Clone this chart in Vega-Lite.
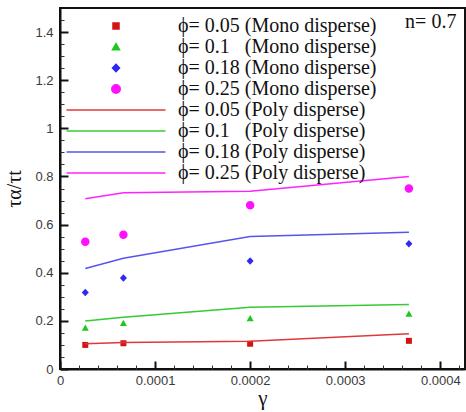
{
  "$schema": "https://vega.github.io/schema/vega-lite/v6.json",
  "width": 405,
  "height": 361,
  "autosize": "none",
  "padding": {"left": 60, "top": 8, "right": 1, "bottom": 43},
  "background": "white",
  "datasets": {
    "mono": [
      {"g": 0.0000266, "v": 0.10, "s": "ϕ= 0.05 (Mono disperse)"},
      {"g": 0.0000667, "v": 0.107, "s": "ϕ= 0.05 (Mono disperse)"},
      {"g": 0.0002, "v": 0.105, "s": "ϕ= 0.05 (Mono disperse)"},
      {"g": 0.000367, "v": 0.117, "s": "ϕ= 0.05 (Mono disperse)"},
      {"g": 0.0000266, "v": 0.17, "s": "ϕ= 0.1\u2007 (Mono disperse)"},
      {"g": 0.0000667, "v": 0.19, "s": "ϕ= 0.1\u2007 (Mono disperse)"},
      {"g": 0.0002, "v": 0.21, "s": "ϕ= 0.1\u2007 (Mono disperse)"},
      {"g": 0.000367, "v": 0.229, "s": "ϕ= 0.1\u2007 (Mono disperse)"},
      {"g": 0.0000266, "v": 0.318, "s": "ϕ= 0.18 (Mono disperse)"},
      {"g": 0.0000667, "v": 0.378, "s": "ϕ= 0.18 (Mono disperse)"},
      {"g": 0.0002, "v": 0.449, "s": "ϕ= 0.18 (Mono disperse)"},
      {"g": 0.000367, "v": 0.52, "s": "ϕ= 0.18 (Mono disperse)"},
      {"g": 0.0000266, "v": 0.529, "s": "ϕ= 0.25 (Mono disperse)"},
      {"g": 0.0000667, "v": 0.558, "s": "ϕ= 0.25 (Mono disperse)"},
      {"g": 0.0002, "v": 0.68, "s": "ϕ= 0.25 (Mono disperse)"},
      {"g": 0.000367, "v": 0.75, "s": "ϕ= 0.25 (Mono disperse)"}
    ],
    "poly": [
      {"g": 0.0000266, "v": 0.105, "s": "ϕ= 0.05 (Poly disperse)"},
      {"g": 0.0000667, "v": 0.11, "s": "ϕ= 0.05 (Poly disperse)"},
      {"g": 0.0002, "v": 0.115, "s": "ϕ= 0.05 (Poly disperse)"},
      {"g": 0.000367, "v": 0.146, "s": "ϕ= 0.05 (Poly disperse)"},
      {"g": 0.0000266, "v": 0.199, "s": "ϕ= 0.1\u2007 (Poly disperse)"},
      {"g": 0.0000667, "v": 0.215, "s": "ϕ= 0.1\u2007 (Poly disperse)"},
      {"g": 0.0002, "v": 0.257, "s": "ϕ= 0.1\u2007 (Poly disperse)"},
      {"g": 0.000367, "v": 0.268, "s": "ϕ= 0.1\u2007 (Poly disperse)"},
      {"g": 0.0000266, "v": 0.418, "s": "ϕ= 0.18 (Poly disperse)"},
      {"g": 0.0000667, "v": 0.46, "s": "ϕ= 0.18 (Poly disperse)"},
      {"g": 0.0002, "v": 0.551, "s": "ϕ= 0.18 (Poly disperse)"},
      {"g": 0.000367, "v": 0.568, "s": "ϕ= 0.18 (Poly disperse)"},
      {"g": 0.0000266, "v": 0.707, "s": "ϕ= 0.25 (Poly disperse)"},
      {"g": 0.0000667, "v": 0.732, "s": "ϕ= 0.25 (Poly disperse)"},
      {"g": 0.0002, "v": 0.739, "s": "ϕ= 0.25 (Poly disperse)"},
      {"g": 0.000367, "v": 0.80, "s": "ϕ= 0.25 (Poly disperse)"}
    ]
  },
  "layer": [
    {
      "data": {"name": "mono"},
      "mark": {"type": "point", "filled": true, "size": 100, "opacity": 1},
      "encoding": {
        "x": {
          "field": "g", "type": "quantitative",
          "scale": {"domain": [0, 0.000426], "nice": false, "zero": false},
          "axis": {
            "orient": "bottom", "values": [0, 0.0001, 0.0002, 0.0003, 0.0004], "format": "~g",
            "tickSize": -8, "tickWidth": 2, "tickColor": "#111", "domainColor": "#111", "domainWidth": 2,
            "labelPadding": 13, "labelFont": "Liberation Sans", "labelFontSize": 13, "labelColor": "#3a3a3a",
            "labelFlush": false, "grid": false,
            "title": "γ", "titleFont": "Liberation Serif", "titleFontSize": 21, "titleFontWeight": "normal",
            "titleColor": "#111", "titlePadding": 0
          }
        },
        "y": {
          "field": "v", "type": "quantitative",
          "scale": {"domain": [0, 1.5], "nice": false, "zero": false},
          "axis": {
            "orient": "left", "values": [0, 0.2, 0.4, 0.6, 0.8, 1, 1.2, 1.4], "format": "~g",
            "tickSize": -8, "tickWidth": 2, "tickColor": "#111", "domainColor": "#111", "domainWidth": 2,
            "labelPadding": 15, "labelFont": "Liberation Sans", "labelFontSize": 13, "labelColor": "#3a3a3a",
            "labelFlush": false, "grid": false,
            "title": "τα/τt", "titleFont": "Liberation Serif", "titleFontSize": 20, "titleFontWeight": "normal",
            "titleColor": "#111", "titlePadding": 10
          }
        },
        "fill": {
          "field": "s", "type": "nominal",
          "scale": {
            "domain": ["ϕ= 0.05 (Mono disperse)", "ϕ= 0.1\u2007 (Mono disperse)", "ϕ= 0.18 (Mono disperse)", "ϕ= 0.25 (Mono disperse)", "ϕ= 0.05 (Poly disperse)", "ϕ= 0.1\u2007 (Poly disperse)", "ϕ= 0.18 (Poly disperse)", "ϕ= 0.25 (Poly disperse)"],
            "range": ["#d41414", "#1ec81e", "#2a2af0", "#ff10ff", "#e03838", "#33cc33", "#5555ee", "#ff22ff"]
          },
          "legend": {"title": null}
        },
        "shape": {
          "field": "s", "type": "nominal",
          "scale": {
            "domain": ["ϕ= 0.05 (Mono disperse)", "ϕ= 0.1\u2007 (Mono disperse)", "ϕ= 0.18 (Mono disperse)", "ϕ= 0.25 (Mono disperse)", "ϕ= 0.05 (Poly disperse)", "ϕ= 0.1\u2007 (Poly disperse)", "ϕ= 0.18 (Poly disperse)", "ϕ= 0.25 (Poly disperse)"],
            "range": ["M-0.6,-0.6H0.6V0.6H-0.6Z", "M0,-0.7L0.7,0.55H-0.7Z", "M0,-0.75L0.7,0L0,0.75L-0.7,0Z", "M-0.85,0A0.85,0.85,0,1,0,0.85,0A0.85,0.85,0,1,0,-0.85,0Z", "M-9.9,0H9.9", "M-9.9,0H9.9", "M-9.9,0H9.9", "M-9.9,0H9.9"]
          },
          "legend": {"title": null}
        }
      }
    },
    {
      "data": {"name": "poly"},
      "mark": {"type": "line", "strokeWidth": 1.5},
      "encoding": {
        "x": {
          "field": "g", "type": "quantitative",
          "axis": {
            "orient": "bottom",
            "values": [0.00002, 0.00004, 0.00006, 0.00008, 0.00012, 0.00014, 0.00016, 0.00018, 0.00022, 0.00024, 0.00026, 0.00028, 0.00032, 0.00034, 0.00036, 0.00038, 0.00042],
            "labels": false, "domain": false, "tickSize": -4, "tickWidth": 1, "tickColor": "#333", "title": null, "grid": false
          }
        },
        "y": {
          "field": "v", "type": "quantitative",
          "axis": {
            "orient": "left",
            "values": [0.05, 0.1, 0.15, 0.25, 0.3, 0.35, 0.45, 0.5, 0.55, 0.65, 0.7, 0.75, 0.85, 0.9, 0.95, 1.05, 1.1, 1.15, 1.25, 1.3, 1.35, 1.45],
            "labels": false, "domain": false, "tickSize": -4, "tickWidth": 1, "tickColor": "#333", "title": null, "grid": false
          }
        },
        "stroke": {
          "field": "s", "type": "nominal",
          "scale": {
            "domain": ["ϕ= 0.05 (Mono disperse)", "ϕ= 0.1\u2007 (Mono disperse)", "ϕ= 0.18 (Mono disperse)", "ϕ= 0.25 (Mono disperse)", "ϕ= 0.05 (Poly disperse)", "ϕ= 0.1\u2007 (Poly disperse)", "ϕ= 0.18 (Poly disperse)", "ϕ= 0.25 (Poly disperse)"],
            "range": ["#d41414", "#1ec81e", "#2a2af0", "#ff10ff", "#e03838", "#33cc33", "#5555ee", "#ff22ff"]
          },
          "legend": {"title": null}
        }
      }
    },
    {
      "data": {"values": [{"label": "n= 0.7"}]},
      "mark": {"type": "text", "align": "left", "baseline": "middle", "font": "Liberation Serif", "fontSize": 20, "color": "#111"},
      "encoding": {
        "x": {"datum": 0.000363, "type": "quantitative", "axis": null},
        "y": {"datum": 1.44, "type": "quantitative", "axis": null},
        "text": {"field": "label", "type": "nominal"}
      }
    }
  ],
  "resolve": {"axis": {"x": "independent", "y": "independent"}},
  "config": {
    "view": {"stroke": "#111", "strokeWidth": 2},
    "legend": {
      "orient": "none", "legendX": 46, "legendY": 8, "padding": 0, "rowPadding": 1,
      "labelOffset": 52, "symbolSize": 100, "symbolStrokeWidth": 1.5,
      "labelFont": "Liberation Serif", "labelFontSize": 20, "labelColor": "#111", "labelLimit": 400
    }
  }
}
